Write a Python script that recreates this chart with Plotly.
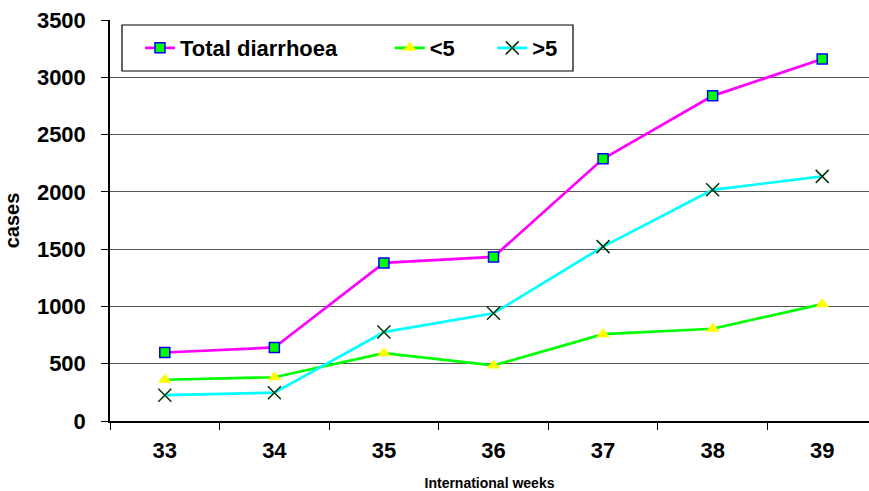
import plotly.graph_objects as go

weeks = ["33", "34", "35", "36", "37", "38", "39"]
total_diarrhoea = [598, 642, 1380, 1432, 2288, 2838, 3160]
under5 = [360, 382, 592, 485, 758, 805, 1020]
over5 = [225, 247, 776, 940, 1522, 2018, 2135]
y_ticks = [0, 500, 1000, 1500, 2000, 2500, 3000, 3500]

FONT = "Liberation Sans, Arial, sans-serif"

fig = go.Figure()
fig.add_trace(go.Scatter(
    x=weeks, y=total_diarrhoea, name="Total diarrhoea", mode="lines+markers",
    line=dict(color="#FF00FF", width=2.7),
    marker=dict(symbol="square", size=10, color="#00FF00", line=dict(color="#0000FF", width=1.5)),
    legend="legend", showlegend=True))
fig.add_trace(go.Scatter(
    x=weeks, y=under5, name="<5", mode="lines+markers",
    line=dict(color="#00FF00", width=2.7),
    marker=dict(symbol="triangle-up", size=12, color="#FFFF00", line=dict(width=0)),
    legend="legend2", showlegend=True))
fig.add_trace(go.Scatter(
    x=weeks, y=over5, name=">5", mode="lines+markers",
    line=dict(color="#00FFFF", width=2.7),
    marker=dict(symbol="x-thin", size=13, color="#003300", line=dict(color="#003300", width=1.5)),
    legend="legend3", showlegend=True))

leg_font = dict(family=FONT, size=22, color="black", weight="bold")
common_leg = dict(orientation="h", xanchor="left", yanchor="middle", y=0.930,
                  bgcolor="rgba(0,0,0,0)", borderwidth=0, font=leg_font,
                  itemclick=False, itemdoubleclick=False, visible=True)

fig.update_layout(
    width=869, height=491,
    showlegend=True,
    margin=dict(l=110, r=0, t=20, b=70),
    paper_bgcolor="white", plot_bgcolor="white",
    font=dict(family=FONT, color="black"),
    legend=dict(x=0.0395, **common_leg),
    legend2=dict(x=0.3686, **common_leg),
    legend3=dict(x=0.5036, **common_leg),
    xaxis=dict(
        type="category", range=[-0.5, 6.427], tickson="boundaries",
        ticks="outside", ticklen=7, tickcolor="black", tickwidth=1,
        showline=True, linecolor="black", linewidth=1.5, showgrid=False,
        tickfont=dict(family=FONT, size=22, color="black", weight="bold"),
        ticklabelstandoff=9,
        title=dict(text="International weeks", standoff=16,
                   font=dict(family=FONT, size=14, color="black", weight="bold")),
    ),
    yaxis=dict(
        range=[0, 3500], tickvals=y_ticks,
        ticks="outside", ticklen=7, tickcolor="black", tickwidth=1,
        showline=True, linecolor="black", linewidth=1.5,
        showgrid=True, gridcolor="#555555", gridwidth=1, zeroline=False,
        tickfont=dict(family=FONT, size=22, color="black", weight="bold"),
        ticklabelstandoff=11,
        title=dict(text="cases", standoff=12,
                   font=dict(family=FONT, size=20, color="black", weight="bold")),
    ),
    shapes=[dict(type="rect", xref="paper", yref="paper",
                 x0=0.0158, x1=0.610, y0=0.8728, y1=0.9875,
                 line=dict(color="black", width=1.2), fillcolor="white", layer="below")],
)

fig.write_html("out.html", config={"displayModeBar": False},
               post_script="document.body.style.margin='0px';")
